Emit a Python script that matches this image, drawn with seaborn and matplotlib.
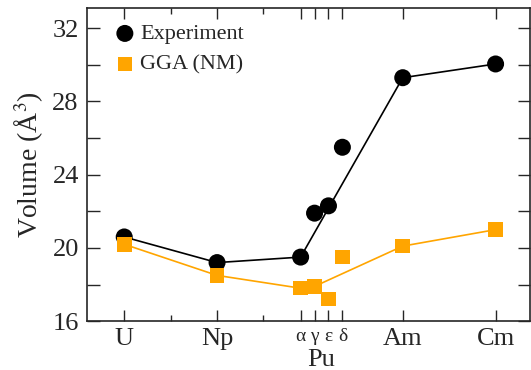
import pandas as pd
import matplotlib
matplotlib.use("Agg")
import matplotlib.pyplot as plt
import seaborn as sns

# dados
rotulos = ["U", "Np", "α", "γ", "ε", "δ", "Am", "Cm"]
posicoes = [0, 1, 1.9, 2.05, 2.2, 2.35, 3, 4]
experimento = [20.6, 19.2, 19.5, 21.9, 22.3, 25.5, 29.3, 30.05]
gga = [20.2, 18.5, 17.8, 17.9, 17.2, 19.5, 20.1, 21.0]
# quais pontos entram na linha
linha_exp = ["U", "Np", "α", "Am", "Cm"]
linha_gga = ["U", "Np", "α", "γ", "Am", "Cm"]

df = pd.DataFrame({"rotulo": rotulos, "x": posicoes, "exp": experimento, "gga": gga})

sns.set_style("ticks")
plt.rcParams["font.family"] = ["Liberation Serif", "DejaVu Serif"]
plt.rcParams["mathtext.fontset"] = "stix"

fig = plt.figure(figsize=(5.31, 3.70), dpi=100)
ax = fig.add_axes([0.164, 0.132, 0.834, 0.846])

laranja = "#FFA500"
sns.lineplot(data=df[df.rotulo.isin(linha_exp)], x="x", y="exp", color="black",
             linewidth=1.2, sort=False, ax=ax, legend=False)
sns.lineplot(data=df[df.rotulo.isin(linha_gga)], x="x", y="gga", color=laranja,
             linewidth=1.2, sort=False, ax=ax, legend=False)
sns.scatterplot(data=df, x="x", y="exp", color="black", marker="o", s=150,
                edgecolor="none", ax=ax, label="Experiment", zorder=3)
sns.scatterplot(data=df, x="x", y="gga", color=laranja, marker="s", s=110,
                edgecolor="none", ax=ax, label="GGA (NM)", zorder=3)

ax.set_xlim(-0.4, 4.37)
ax.set_ylim(16, 33.1)
ax.set_xticks(posicoes)
ax.set_xticklabels(rotulos)
ax.set_xticks([0.5, 1.5], minor=True)
ax.set_yticks([16, 20, 24, 28, 32])
ax.set_yticks([18, 22, 26, 30], minor=True)
ax.tick_params(axis="both", which="both", direction="in", top=True, right=True,
               labelsize=19, width=1)
ax.tick_params(axis="x", which="major", length=8, pad=5)
ax.tick_params(axis="x", which="minor", length=4)
ax.tick_params(axis="y", which="both", length=9, pad=6)
for t in ax.get_xticklabels():
    if t.get_text() in ["α", "γ", "ε", "δ"]:
        t.set_fontsize(14)
for s in ax.spines.values():
    s.set_linewidth(1.2)

# rótulo do grupo Pu abaixo das fases
ax.text(2.125, -0.125, "Pu", transform=ax.get_xaxis_transform(), ha="center",
        va="center", fontsize=19)
ax.set_xlabel("")
ax.set_ylabel("Volume (Å$^3$)", fontsize=20, labelpad=5)

ax.legend(loc="upper left", frameon=False, fontsize=16, handletextpad=-0.3,
          borderaxespad=0.3, labelspacing=0.45, markerscale=1.0,
          bbox_to_anchor=(0.0, 1.0))

fig.savefig("out.png", dpi=100)
